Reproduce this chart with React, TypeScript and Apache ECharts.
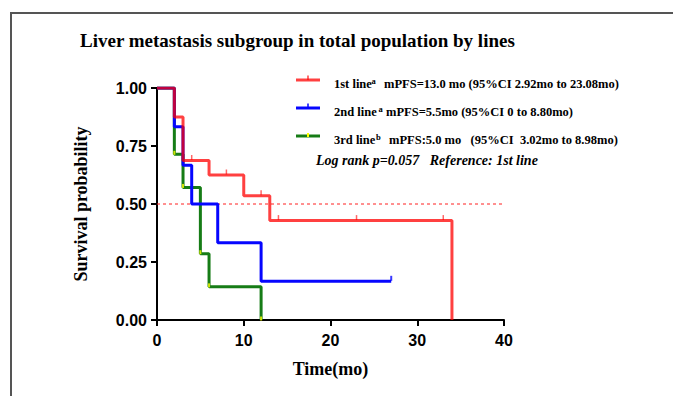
import React, { useEffect, useRef } from "react";
import * as echarts from "echarts";

const titleText = "Liver metastasis subgroup in total population by lines";
const xTicks = [0, 10, 20, 30, 40];
const yTicks = [0, 0.25, 0.5, 0.75, 1];

const firstTimes = [0, 2, 3, 6, 10, 13, 34];
const firstSurv = [1, 0.875, 0.6875, 0.625, 0.5357, 0.4286, 0];
const firstCensorTimes = [4, 8, 12, 14, 23, 33];
const firstCensorSurv = [0.6875, 0.625, 0.5357, 0.4286, 0.4286, 0.4286];

const secondTimes = [0, 2, 3, 4, 7, 12, 27];
const secondSurv = [1, 0.8333, 0.6667, 0.5, 0.3333, 0.1667, 0.1667];
const secondCensorTimes = [27];
const secondCensorSurv = [0.1667];

const thirdTimes = [0, 2, 3, 5, 6, 12];
const thirdSurv = [1, 0.7143, 0.5714, 0.2857, 0.1429, 0];
const thirdMarkTimes = [2, 3, 5, 6, 12];
const thirdMarkSurv = [0.7143, 0.5714, 0.2857, 0.1429, 0];

const medianRef = [0.5, 0.5];
const medianRefX = [0, 40];

const legendNames = ["1st line", "2nd line", "3rd line"];
const legendSup = ["a", "a", "b"];
const legendStats = [
  "mPFS=13.0 mo (95%CI 2.92mo to 23.08mo)",
  "mPFS=5.5mo (95%CI 0 to 8.80mo)",
  "mPFS:5.0 mo   (95%CI  3.02mo to 8.98mo)",
];
const noteText = "Log rank p=0.057   Reference: 1st line";

const RED = "rgba(255,0,0,0.75)";
const BLUE = "#0606ff";
const GREEN = "#167c16";
const YELLOW = "#ffff00";
const SERIF = "'Liberation Serif', 'Times New Roman', serif";
const SANS = "'Liberation Sans', Arial, sans-serif";

const zip = (a: number[], b: number[]) => a.map((v, i) => [v, b[i]]);

export default function App() {
  const ref = useRef<HTMLDivElement>(null);
  useEffect(() => {
    if (!ref.current) return;
    const chart = echarts.init(ref.current, undefined, { renderer: "svg" });
    const legendY = [80, 108, 136];
    const legendColors = [RED, BLUE, GREEN];
    const statX = [384, 386, 389];
    const supX = [371.5, 378.5, 376];
    const graphics: any[] = [
      { type: "line", shape: { x1: 10, y1: 13, x2: 673, y2: 13 }, style: { stroke: "#555", lineWidth: 2 } },
      { type: "line", shape: { x1: 11, y1: 12, x2: 11, y2: 396 }, style: { stroke: "#555", lineWidth: 2 } },
      {
        type: "text", x: 80, y: 40,
        style: { text: titleText, font: `bold 19px ${SERIF}`, fill: "#000", verticalAlign: "middle" },
      },
    ];
    legendNames.forEach((name, i) => {
      const y = legendY[i];
      graphics.push({ type: "line", shape: { x1: 296, y1: y, x2: 320, y2: y }, style: { stroke: legendColors[i], lineWidth: 3 } });
      if (i < 2) {
        graphics.push({ type: "line", shape: { x1: 308, y1: y - 4.5, x2: 308, y2: y }, style: { stroke: legendColors[i], lineWidth: 1.5 } });
      } else {
        graphics.push({ type: "rect", shape: { x: 307, y: y - 3, width: 2, height: 4 }, style: { fill: YELLOW } });
      }
      graphics.push({ type: "text", x: 334, y: y + 3.5, style: { text: name, font: `bold 12.5px ${SERIF}`, fill: "#000", verticalAlign: "middle" } });
      graphics.push({ type: "text", x: supX[i], y: y + 1, style: { text: legendSup[i], font: `bold 8.5px ${SERIF}`, fill: "#000", verticalAlign: "middle" } });
      graphics.push({ type: "text", x: statX[i], y: y + 3.5, style: { text: legendStats[i], font: `bold 12.5px ${SERIF}`, fill: "#000", verticalAlign: "middle" } });
    });
    graphics.push({ type: "text", x: 316, y: 160.5, style: { text: noteText, font: `italic bold 14px ${SERIF}`, fill: "#000", verticalAlign: "middle" } });

    const stepLine = (name: string, data: number[][], color: string, z: number) => ({
      name, type: "line", step: "end", data, symbol: "none", z,
      lineStyle: { color, width: 3 }, itemStyle: { color },
    });
    const censor = (data: number[][], color: string, size: number[], offset: number[], z: number) => ({
      type: "scatter", data, symbol: "rect", symbolSize: size, symbolOffset: offset, z,
      itemStyle: { color },
    });

    chart.setOption({
      animation: false,
      grid: { left: 157, top: 88, width: 347, height: 232, containLabel: false },
      xAxis: {
        type: "value", min: xTicks[0], max: xTicks[xTicks.length - 1], interval: 10,
        name: "Time(mo)", nameLocation: "middle", nameGap: 40,
        nameTextStyle: { fontFamily: SERIF, fontWeight: "bold", fontSize: 18, color: "#000" },
        axisLine: { onZero: false, lineStyle: { color: "#000", width: 2 } },
        axisTick: { length: 6, lineStyle: { color: "#000", width: 2 } },
        axisLabel: { margin: 12, fontFamily: SANS, fontWeight: "bold", fontSize: 16, color: "#000" },
        splitLine: { show: false },
      },
      yAxis: {
        type: "value", min: yTicks[0], max: yTicks[yTicks.length - 1], interval: 0.25,
        name: "Survival probability", nameLocation: "middle", nameGap: 67,
        nameTextStyle: { fontFamily: SERIF, fontWeight: "bold", fontSize: 18, color: "#000" },
        axisLine: { show: true, onZero: false, lineStyle: { color: "#000", width: 2 } },
        axisTick: { show: true, length: 6, lineStyle: { color: "#000", width: 2 } },
        axisLabel: { margin: 10, fontFamily: SANS, fontWeight: "bold", fontSize: 16, color: "#000", formatter: (v: number) => v.toFixed(2) },
        splitLine: { show: false },
      },
      series: [
        {
          type: "line", data: zip(medianRefX, medianRef), symbol: "none", z: 1,
          lineStyle: { color: "#ff2020", width: 1, type: [3, 3] },
        },
        stepLine(legendNames[2], zip(thirdTimes, thirdSurv), GREEN, 2),
        censor(zip(thirdMarkTimes, thirdMarkSurv), YELLOW, [2, 4], [0, -1.5], 3),
        stepLine(legendNames[1], zip(secondTimes, secondSurv), BLUE, 4),
        censor(zip(secondCensorTimes, secondCensorSurv), BLUE, [2, 5], [0, -3], 5),
        stepLine(legendNames[0], zip(firstTimes, firstSurv), RED, 6),
        censor(zip(firstCensorTimes, firstCensorSurv), RED, [1.5, 5], [0, -3], 7),
      ],
      graphic: graphics,
    });
    return () => chart.dispose();
  }, []);
  return (
    <div
      ref={ref}
      style={{ position: "fixed", left: 0, top: 0, width: 673, height: 396, background: "#fff" }}
    />
  );
}
